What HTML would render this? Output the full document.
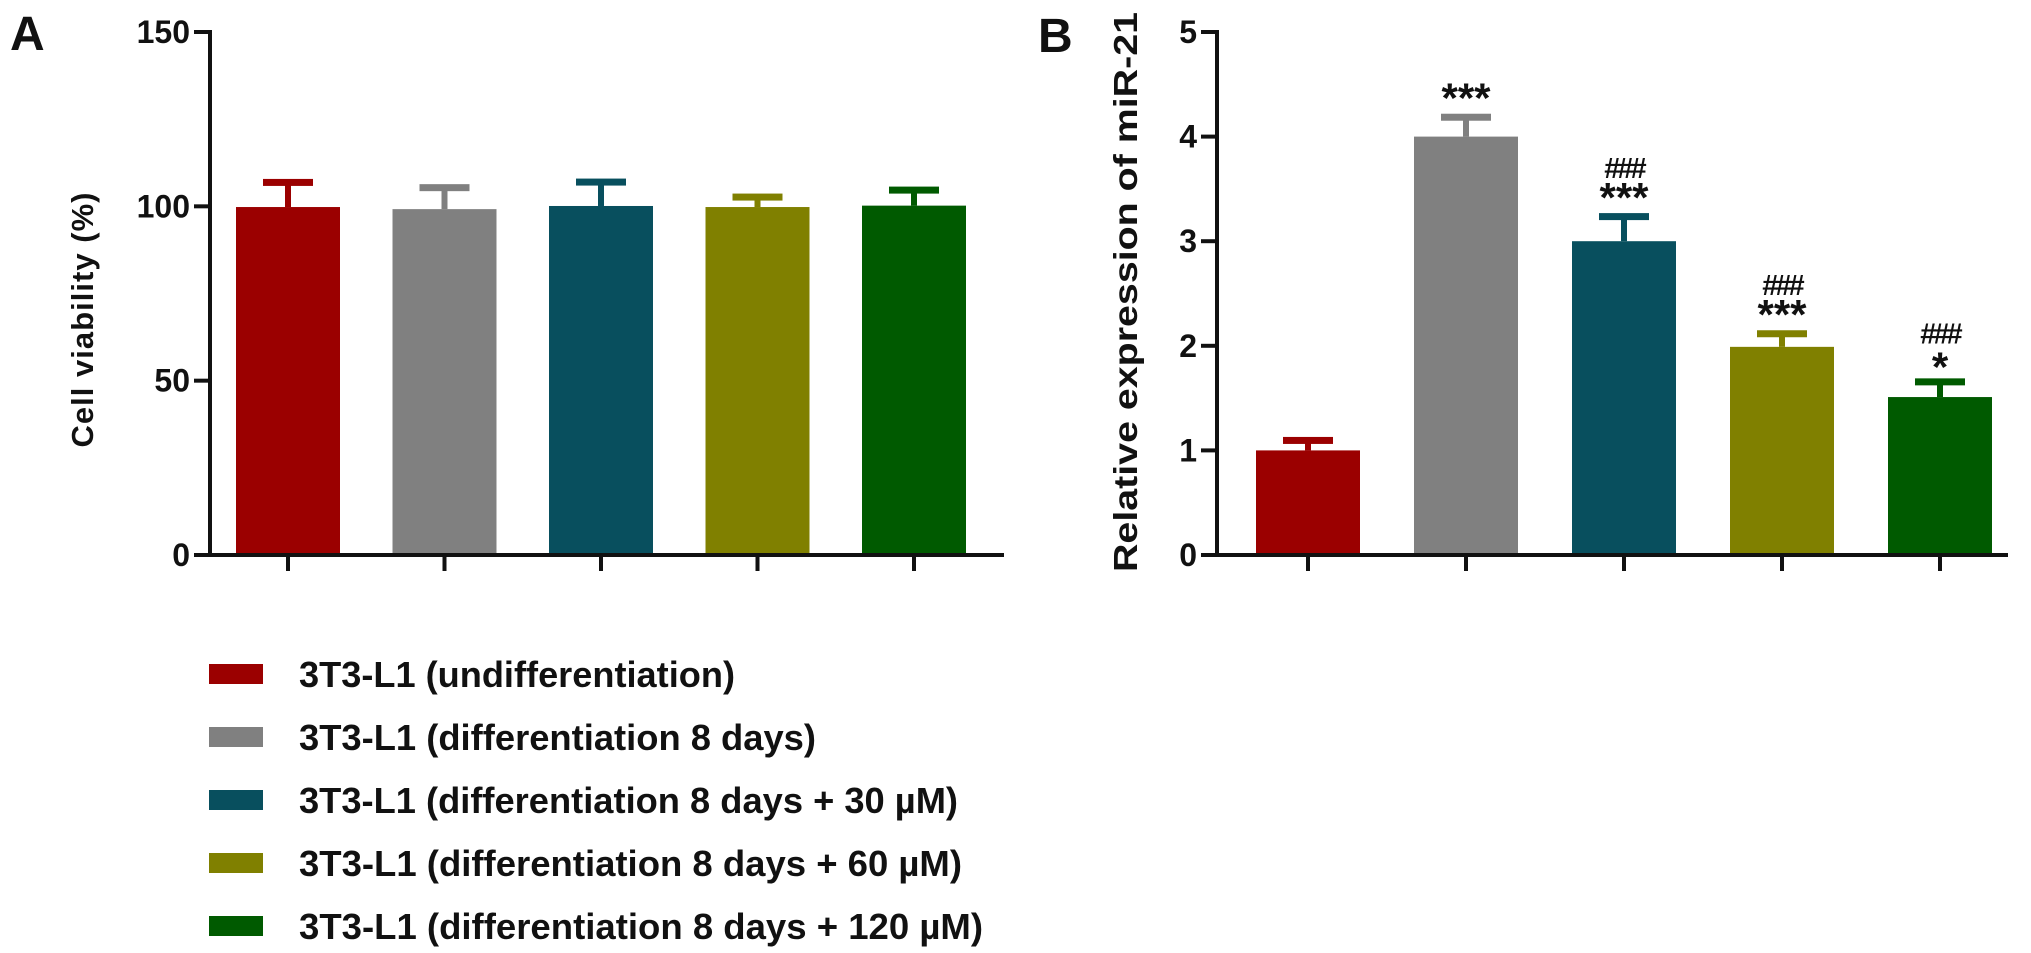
<!DOCTYPE html>
<html><head><meta charset="utf-8"><style>
html,body{margin:0;padding:0;background:#fff}
svg{display:block}
text{font-family:"Liberation Sans",Arial,sans-serif;font-weight:bold;fill:#111}
</style></head><body>
<svg id="fig" width="2031" height="953" viewBox="0 0 2031 953" xmlns="http://www.w3.org/2000/svg">
<text x="10" y="50" font-size="48">A</text>
<text x="1038" y="52" font-size="48">B</text>
<text transform="translate(93,320) rotate(-90)" text-anchor="middle" font-size="31" textLength="255">Cell viability (%)</text>
<text transform="translate(1137,292) rotate(-90)" text-anchor="middle" font-size="33" textLength="560" lengthAdjust="spacingAndGlyphs">Relative expression of miR-21</text>
<g id="gA"></g>
<g id="gB"></g>
<g id="legend"></g>
</svg>
<script>
const categories = ["3T3-L1 (undifferentiation)","3T3-L1 (differentiation 8 days)","3T3-L1 (differentiation 8 days + 30 µM)","3T3-L1 (differentiation 8 days + 60 µM)","3T3-L1 (differentiation 8 days + 120 µM)"];
const colors = ["#9b0000","#808080","#084f5e","#808000","#005a00"];
const viability = [99.8, 99.2, 100.1, 99.8, 100.2];
const viabilityErr = [7.2, 6.3, 7.0, 3.0, 4.6];
const viabilityTicks = [0, 50, 100, 150];
const expression = [1.0, 4.0, 3.0, 1.99, 1.51];
const expressionErr = [0.1, 0.19, 0.24, 0.13, 0.15];
const expressionTicks = [0, 1, 2, 3, 4, 5];
const starLabels = ["", "***", "***", "***", "*"];
const hashLabels = ["", "", "###", "###", "###"];
const legendWidths = [436, 517, 659, 663, 684];

const NS = "http://www.w3.org/2000/svg";
function mk(parent, tag, attrs, txt){const e=document.createElementNS(NS,tag);for(const k in attrs)e.setAttribute(k,attrs[k]);if(txt!==undefined)e.textContent=txt;parent.appendChild(e);return e;}

function panel(g, opts){
  const {axisX, x0, step, bw, y0, yTop, max, vals, errs, ticks, endX, key} = opts;
  const ys = v => y0 - v/max*(y0-yTop);
  const xs = i => x0 + i*step;
  vals.forEach((v,i)=>{
    const cx = xs(i)+bw/2, ye = ys(v+errs[i]);
    const st = mk(g,'rect',{x:cx-3,y:ye,width:6,height:ys(v)-ye,fill:colors[i]});
    
    
    const cap = mk(g,'rect',{x:cx-25,y:ye-3,width:50,height:7,fill:colors[i]});
    
    
    const b = mk(g,'rect',{x:xs(i),y:ys(v),width:bw,height:y0-ys(v),fill:colors[i]});
    
    
    const t = mk(g,'rect',{x:cx-2,y:y0,width:4,height:16,fill:'#111'});
    
    
  });
  const ax = mk(g,'line',{x1:axisX,y1:yTop-2,x2:axisX,y2:y0+2,stroke:'#111','stroke-width':4});
  
  
  const bl = mk(g,'line',{x1:axisX-16,y1:y0,x2:endX,y2:y0,stroke:'#111','stroke-width':4});
  
  
  ticks.forEach(t=>{
    const y = ys(t);
    const tk = mk(g,'line',{x1:axisX-16,y1:y,x2:axisX,y2:y,stroke:'#111','stroke-width':4});
    
    
    const lb = mk(g,'text',{x:axisX-20,y:y+11,'text-anchor':'end','font-size':32},String(t));
    
    
  });
  return {xs, ys};
}

const A = panel(document.getElementById('gA'),{axisX:210,x0:236,step:156.5,bw:104,y0:555,yTop:32,max:150,vals:viability,errs:viabilityErr,ticks:viabilityTicks,endX:1004,key:'viability'});
const B = panel(document.getElementById('gB'),{axisX:1217,x0:1256,step:158,bw:104,y0:555,yTop:32,max:5,vals:expression,errs:expressionErr,ticks:expressionTicks,endX:2008,key:'expression'});

const gB = document.getElementById('gB');
expression.forEach((v,i)=>{
  const cx = B.xs(i)+52, top = B.ys(v+expressionErr[i]);
  if(starLabels[i]){
    const s = mk(gB,'text',{x:cx,y:top-4+ (starLabels[i]==='*'?4:0),'text-anchor':'middle','font-size':42,'font-weight':'normal'},starLabels[i]);
    
    
  }
  if(hashLabels[i]){
    const h = mk(gB,'text',{x:cx,y:top-38,'text-anchor':'middle','font-size':29,'font-weight':'normal','letter-spacing':'-3'},hashLabels[i]);
    
    
  }
});

const lg = document.getElementById('legend');
categories.forEach((c,i)=>{
  const y = 674 + i*63;
  const sw = mk(lg,'rect',{x:209,y:y-10,width:54,height:20,fill:colors[i]});
  
  
  const tx = mk(lg,'text',{x:299,y:y+13,'font-size':36,textLength:legendWidths[i],lengthAdjust:'spacingAndGlyphs'},c);
  
  
});
</script>
</body></html>
